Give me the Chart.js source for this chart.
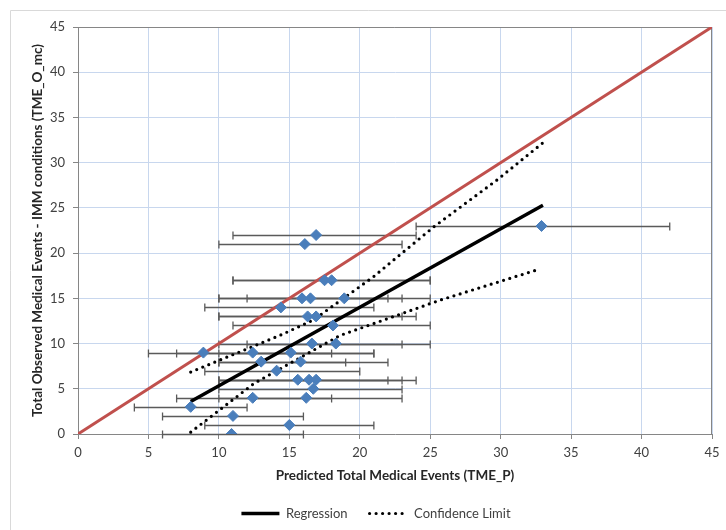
<!DOCTYPE html>
<html>
<head>
<meta charset="utf-8">
<title>Observed vs predicted medical events</title>
<script src="https://cdn.jsdelivr.net/npm/chart.js@4.4.0/dist/chart.umd.min.js"></script>
<style>
    html, body { margin: 0; padding: 0; background: #ffffff; }
    #wrap { position: relative; width: 726px; height: 530px; }
</style>
</head>
<body>
<div id="wrap"><canvas id="chart" width="726" height="530"></canvas></div>
<script>
// Observed vs predicted events, one entry per mission
const predicted = [32.9, 16.9, 16.1, 17.5, 18.0, 15.9, 16.5, 18.9, 14.4, 16.3, 16.9, 18.1, 16.6, 18.3, 8.9,
    12.4, 15.1, 13.0, 15.8, 14.1, 15.6, 16.4, 16.9, 16.7, 12.4, 16.2, 8.0, 11.0, 15.0, 10.9];
const observed = [23, 22, 21, 17, 17, 15, 15, 15, 14, 13, 13, 12, 10, 10, 9,
    9, 9, 8, 8, 7, 6, 6, 6, 5, 4, 4, 3, 2, 1, 0];
// horizontal error bar ends (predicted range)
const predLow = [24, 11, 10, 11, 11, 10, 10, 12, 9, 10, 10, 11, 10, 12, 5,
    7, 10, 10, 10, 9, 10, 10, 10, 10, 7, 10, 4, 6, 9, 6];
const predHigh = [42, 24, 23, 25, 25, 22, 23, 25, 21, 23, 24, 25, 23, 25, 18,
    21, 21, 19, 22, 20, 22, 23, 24, 23, 18, 23, 12, 16, 21, 16];

// Regression and confidence limits
const regX = [8.0, 33.0];
const regY = [3.6, 25.3];
const upperX = [8.0, 14.4, 16.7, 20.9, 25.25, 29.75, 33.0];
const upperY = [6.85, 10.95, 12.6, 17.3, 22.9, 28.1, 32.2];
const lowerX = [8.0, 12.5, 18.6, 25.7, 32.8];
const lowerY = [0.2, 5.6, 10.9, 14.8, 18.25];

// 1:1 reference line
const identityX = [0, 45];
const identityY = [0, 45];

const axisTicks = [0, 5, 10, 15, 20, 25, 30, 35, 40, 45];

const toPoints = (xs, ys) => xs.map((v, i) => ({ x: v, y: ys[i] }));

const FONT = "Lato, 'Open Sans', sans-serif";
const axisColor = '#868686';
const gridColor = '#c8d7ee';

// draws the horizontal error bars under the markers, plus the plot frame
const errorBars = {
    id: 'errorBars',
    beforeDatasetsDraw(chart) {
        const { ctx, chartArea, scales: { x, y } } = chart;
        ctx.save();
        ctx.strokeStyle = axisColor;
        ctx.lineWidth = 1;
        ctx.beginPath();
        ctx.moveTo(chartArea.left, chartArea.top + 0.5);
        ctx.lineTo(chartArea.right - 0.5, chartArea.top + 0.5);
        ctx.lineTo(chartArea.right - 0.5, chartArea.bottom);
        ctx.stroke();

        ctx.strokeStyle = '#5a5a5a';
        ctx.lineWidth = 1.3;
        observed.forEach((v, i) => {
            const py = Math.round(y.getPixelForValue(v)) + 0.5;
            const x1 = x.getPixelForValue(predLow[i]);
            const x2 = x.getPixelForValue(predHigh[i]);
            ctx.beginPath();
            ctx.moveTo(x1, py);
            ctx.lineTo(x2, py);
            ctx.moveTo(x1, py - 4);
            ctx.lineTo(x1, py + 4);
            ctx.moveTo(x2, py - 4);
            ctx.lineTo(x2, py + 4);
            ctx.stroke();
        });
        ctx.restore();
    }
};

// light outer frame of the chart object
const outerFrame = {
    id: 'outerFrame',
    beforeDraw(chart) {
        const { ctx, width, height } = chart;
        ctx.save();
        ctx.strokeStyle = '#d9d9d9';
        ctx.lineWidth = 1;
        ctx.beginPath();
        ctx.moveTo(10.5, height);
        ctx.lineTo(10.5, 10.5);
        ctx.lineTo(width, 10.5);
        ctx.stroke();
        ctx.restore();
    }
};

const axisOptions = (titleText, titleSize, titlePadding) => ({
    type: 'linear',
    min: 0,
    max: 45,
    afterBuildTicks: (scale) => { scale.ticks = axisTicks.map(v => ({ value: v })); },
    ticks: {
        color: '#404040',
        font: { family: FONT, size: 13 }
    },
    grid: {
        color: gridColor,
        tickColor: axisColor,
        tickLength: 5
    },
    border: { color: axisColor, width: 1 },
    title: {
        display: true,
        text: titleText,
        color: '#262626',
        font: { family: FONT, size: titleSize, weight: 'bold' },
        padding: titlePadding
    }
});

const xAxis = axisOptions('Predicted Total Medical Events (TME_P)', 13.5, { top: 4, bottom: 1 });
xAxis.ticks.padding = 6;
xAxis.afterFit = (scale) => { scale.height = 51; };

const yAxis = axisOptions('Total Observed Medical Events - IMM conditions (TME_O_mc)', 13.5, { top: -10, bottom: 0 });
yAxis.ticks.padding = 8;
yAxis.afterFit = (scale) => { scale.width = 38; };

// legend swatches take the dataset line style (solid / dotted)
const legendLabels = (chart) => {
    const items = Chart.defaults.plugins.legend.labels.generateLabels(chart);
    return items.map(item => {
        const ds = chart.data.datasets[item.datasetIndex];
        item.lineDash = ds.borderDash || [];
        item.lineCap = ds.borderCapStyle || 'butt';
        item.lineWidth = ds.borderWidth;
        item.strokeStyle = ds.borderColor;
        return item;
    });
};

const ctx = document.getElementById('chart').getContext('2d');
new Chart(ctx, {
    type: 'scatter',
    data: {
        datasets: [
            {
                label: 'Observed',
                data: toPoints(predicted, observed),
                order: 0,
                pointStyle: 'rectRot',
                pointRadius: 5.5,
                backgroundColor: '#4a7ebb',
                borderColor: '#4a7ebb',
                borderWidth: 1
            },
            {
                label: 'Regression',
                data: toPoints(regX, regY),
                order: 1,
                showLine: true,
                borderColor: '#000000',
                backgroundColor: '#000000',
                borderWidth: 3.5,
                pointRadius: 0,
                pointStyle: 'line'
            },
            {
                label: 'Confidence Limit',
                data: toPoints(upperX, upperY),
                order: 1,
                showLine: true,
                borderColor: '#000000',
                backgroundColor: '#000000',
                borderWidth: 3.2,
                borderDash: [0, 6.5],
                borderCapStyle: 'round',
                pointRadius: 0,
                pointStyle: 'line'
            },
            {
                label: 'Confidence Limit',
                data: toPoints(lowerX, lowerY),
                order: 1,
                showLine: true,
                borderColor: '#000000',
                backgroundColor: '#000000',
                borderWidth: 3.2,
                borderDash: [0, 6.5],
                borderCapStyle: 'round',
                pointRadius: 0,
                pointStyle: 'line'
            },
            {
                label: '1:1',
                data: toPoints(identityX, identityY),
                order: 2,
                showLine: true,
                borderColor: '#c0504d',
                borderWidth: 3,
                pointRadius: 0
            }
        ]
    },
    options: {
        responsive: false,
        animation: false,
        devicePixelRatio: 1,
        layout: { padding: { left: 40, right: 14, top: 27, bottom: 0 } },
        scales: { x: xAxis, y: yAxis },
        plugins: {
            tooltip: { enabled: false },
            legend: {
                position: 'bottom',
                labels: {
                    generateLabels: legendLabels,
                    filter: (item) => item.datasetIndex === 1 || item.datasetIndex === 2,
                    usePointStyle: true,
                    pointStyleWidth: 38,
                    padding: 22,
                    color: '#404040',
                    font: { family: FONT, size: 13 }
                }
            }
        }
    },
    plugins: [outerFrame, errorBars]
});
</script>
</body>
</html>
